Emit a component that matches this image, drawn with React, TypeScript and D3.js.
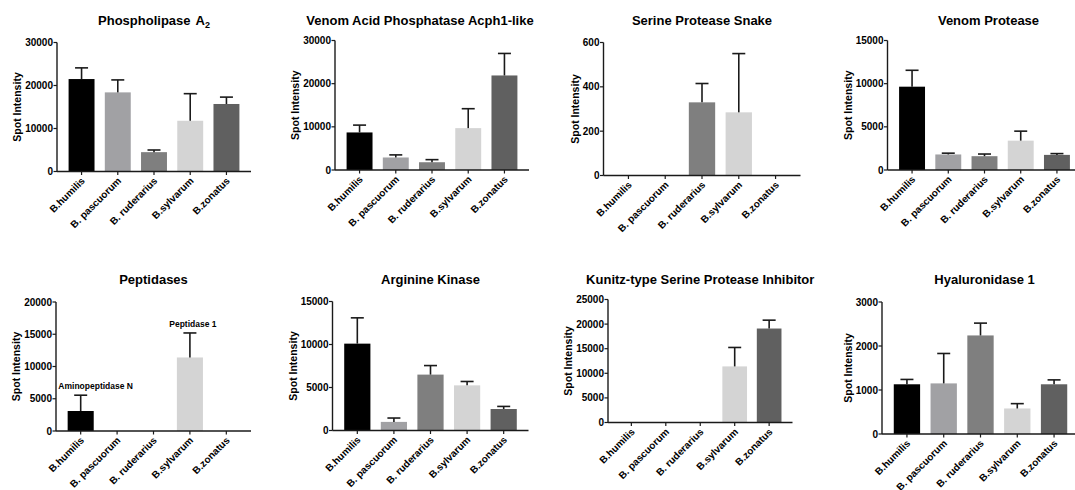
import React from "react";
import * as d3 from "d3";

// categories
const species = ["B.humilis", "B. pascuorum", "B. ruderarius", "B.sylvarum", "B.zonatus"];
const barColors = ["#000000", "#a1a1a4", "#7f7f7f", "#d4d4d4", "#606060"];

const titles = [
  "Phospholipase",
  "Venom Acid Phosphatase Acph1-like",
  "Serine Protease Snake",
  "Venom Protease",
  "Peptidases",
  "Arginine Kinase",
  "Kunitz-type Serine Protease Inhibitor",
  "Hyaluronidase 1",
];

const yMax = [30000, 30000, 600, 15000, 20000, 15000, 25000, 3000];
const yStep = [10000, 10000, 200, 5000, 5000, 5000, 5000, 1000];

// mean spot intensity and SD (upper error bar) per panel, null = not detected
const phospholipaseMean = [21500, 18400, 4500, 11800, 15700];
const phospholipaseSd = [2600, 2900, 500, 6300, 1600];
const acidPhosMean = [8700, 2900, 1800, 9700, 21900];
const acidPhosSd = [1700, 600, 600, 4500, 5100];
const serineSnakeMean = [null, null, 330, 285, null];
const serineSnakeSd = [null, null, 85, 265, null];
const venomProteaseMean = [9650, 1800, 1600, 3400, 1750];
const venomProteaseSd = [1900, 150, 250, 1100, 150];
const peptidaseMean = [3100, null, null, 11400, null];
const peptidaseSd = [2450, null, null, 3800, null];
const arginineMean = [10100, 1000, 6500, 5250, 2500];
const arginineSd = [3000, 450, 1050, 450, 300];
const kunitzMean = [null, null, null, 11400, 19100];
const kunitzSd = [null, null, null, 3850, 1700];
const hyaluronidaseMean = [1130, 1150, 2240, 580, 1130];
const hyaluronidaseSd = [110, 680, 280, 110, 100];

const means = [phospholipaseMean, acidPhosMean, serineSnakeMean, venomProteaseMean, peptidaseMean, arginineMean, kunitzMean, hyaluronidaseMean];
const sds = [phospholipaseSd, acidPhosSd, serineSnakeSd, venomProteaseSd, peptidaseSd, arginineSd, kunitzSd, hyaluronidaseSd];

// peptidase bar labels
const peptidaseNotes = [
  { species: "B.humilis", text: "Aminopeptidase N" },
  { species: "B.sylvarum", text: "Peptidase 1" },
];

// plot frames (axis x, top / bottom pixel of y axis, axis length)
const layout = [
  { x: 57, top: 42.5, bottom: 171.5, w: 194, titleY: 25, titleDx: 0 },
  { x: 335, top: 40.5, bottom: 170, w: 194, titleY: 25, titleDx: -12 },
  { x: 603.5, top: 42.5, bottom: 175.5, w: 197, titleY: 25, titleDx: 0 },
  { x: 887.5, top: 40.5, bottom: 170, w: 194, titleY: 25, titleDx: 4 },
  { x: 56, top: 302, bottom: 431, w: 195, titleY: 284, titleDx: 0 },
  { x: 332.5, top: 301.5, bottom: 430.5, w: 196, titleY: 284, titleDx: 0 },
  { x: 608, top: 299.5, bottom: 422.5, w: 184.5, titleY: 284, titleDx: 0 },
  { x: 882, top: 302, bottom: 434, w: 197, titleY: 284, titleDx: 4 },
];
const noteDx = [15, 3];

const font = "'Liberation Sans', Arial, Helvetica, sans-serif";
const ink = "#1a1a1a";

function Panel({ i }) {
  const L = layout[i];
  const x = d3.scaleBand().domain(species).range([L.x, L.x + L.w]).paddingInner(0.284).paddingOuter(0.32);
  const y = d3.scaleLinear().domain([0, yMax[i]]).range([L.bottom, L.top]);
  const ticks = d3.range(0, yMax[i] + 1, yStep[i]);
  const maxLabel = d3.max(ticks, (t) => String(t).length);
  const ylabX = L.x - 4 - maxLabel * 5.56 - 8;
  const ylabY = (L.top + L.bottom) / 2;
  const bw = x.bandwidth();
  const cap = 6.5;

  return (
    <g>
      <text x={(L.x + L.x + L.w) / 2 + L.titleDx} y={L.titleY} textAnchor="middle"
        fontSize={13} fontWeight="bold" fill="#000" fontFamily={font}>
        {titles[i]}
        {i === 0 && <tspan dx={5}>A</tspan>}
        {i === 0 && <tspan fontSize={9} dy={3}>2</tspan>}
      </text>

      {species.map((s, k) => {
        const m = means[i][k];
        if (m == null) return null;
        const cx = x(s) + bw / 2;
        const top = y(m + sds[i][k]);
        return (
          <g key={s}>
            <rect x={x(s)} y={y(m)} width={bw} height={y(0) - y(m)} fill={barColors[k]} />
            <line x1={cx} x2={cx} y1={y(m)} y2={top} stroke={ink} strokeWidth={1.6} />
            <line x1={cx - cap} x2={cx + cap} y1={top} y2={top} stroke={ink} strokeWidth={1.6} />
          </g>
        );
      })}

      {i === 4 && peptidaseNotes.map((n, k) => {
        const idx = species.indexOf(n.species);
        const top = y(means[i][idx] + sds[i][idx]);
        return (
          <text key={n.text} x={x(n.species) + bw / 2 + noteDx[k]} y={top - 6} textAnchor="middle"
            fontSize={8.5} fontWeight="bold" fill="#000" fontFamily={font}>{n.text}</text>
        );
      })}

      {/* y axis */}
      <line x1={L.x} x2={L.x} y1={L.top} y2={L.bottom} stroke={ink} strokeWidth={1.4} />
      {ticks.map((t) => (
        <g key={t}>
          <line x1={L.x - 3.5} x2={L.x} y1={y(t)} y2={y(t)} stroke={ink} strokeWidth={1.2} />
          <text x={L.x - 4} y={y(t)} dy="0.35em" textAnchor="end" fontSize={10} fontWeight="bold"
            fill="#000" fontFamily={font}>{t}</text>
        </g>
      ))}
      <text transform={`translate(${ylabX + 4},${ylabY}) rotate(-90)`} textAnchor="middle"
        fontSize={10.5} fontWeight="bold" fill="#000" fontFamily={font}>Spot Intensity</text>

      {/* x axis */}
      <line x1={L.x} x2={L.x + L.w} y1={L.bottom} y2={L.bottom} stroke={ink} strokeWidth={1.4} />
      {species.map((s) => {
        const cx = x(s) + bw / 2;
        return (
          <g key={s}>
            <line x1={cx} x2={cx} y1={L.bottom} y2={L.bottom + 3.5} stroke={ink} strokeWidth={1.2} />
            <text transform={`translate(${cx + 4},${L.bottom + 10}) rotate(-45)`} textAnchor="end"
              fontSize={10} fontWeight="bold" fill="#000" fontFamily={font}>{s}</text>
          </g>
        );
      })}
    </g>
  );
}

export default function App() {
  return (
    <svg width={1075} height={490} style={{ position: "absolute", left: 0, top: 0, background: "#fff" }}>
      <rect width={1075} height={490} fill="#fff" />
      {titles.map((t, i) => <Panel key={t} i={i} />)}
    </svg>
  );
}
